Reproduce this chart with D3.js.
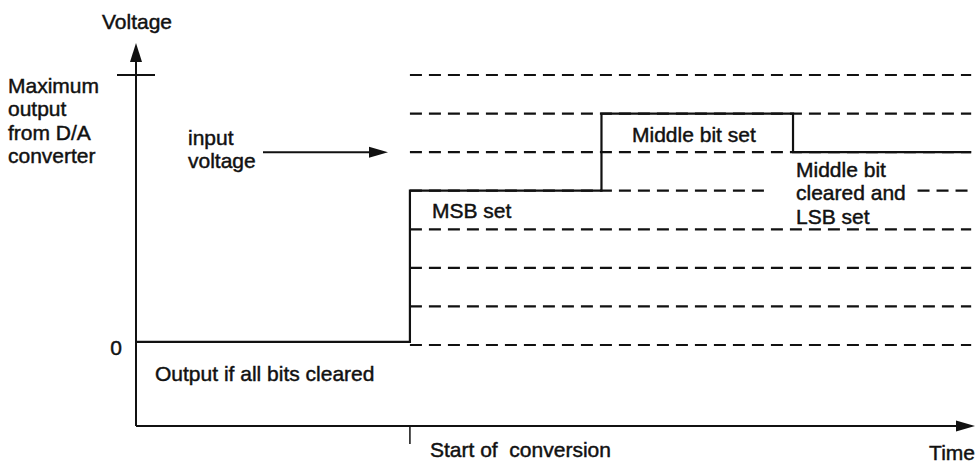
<!DOCTYPE html>
<html>
<head>
<meta charset="utf-8">
<script src="https://cdn.jsdelivr.net/npm/d3@7"></script>
<style>
  body { margin: 0; background: #fff; }
  text { font-family: "Liberation Sans", Arial, sans-serif; font-size: 21px; fill: #111; stroke: #111; stroke-width: 0.45px; }
</style>
</head>
<body>
<div id="chart"></div>
<script>
// D/A successive approximation staircase

// comparison levels (one per code 0..7)
var levels = [0, 1, 2, 3, 4, 5, 6, 7];
// output staircase: time (bit periods from start of conversion) and level
var stepTimes = [-1.43, 0, 1, 2, 2.93];
var stepLevels = [0.08, 4, 6, 5, 5];
var inputLevel = 5;
var maxLevel = 7;
// level 4 dashes broken by the last label
var gapLevel = 4;
var gapTimes = [1.86, 2.65];
var endTime = 2.93;

var svgWidth = 978;
var svgHeight = 465;

var svg = d3.select("#chart")
  .append("svg")
  .attr("width", svgWidth)
  .attr("height", svgHeight);

var xScale = d3.scaleLinear()
  .domain([-1.43, 2.95])
  .range([136, 975]);

var yScale = d3.scaleLinear()
  .domain([-2.1, 7.83])
  .range([426, 43]);

var x0 = xScale(-1.43);
var yAxisPos = yScale(-2.1);

// dashed comparison levels
var segs = [];
levels.forEach(function(l) {
  if (l === gapLevel) {
    segs.push([l, 0, gapTimes[0]]);
    segs.push([l, gapTimes[1], endTime]);
  } else {
    segs.push([l, 0, endTime]);
  }
});

svg.selectAll(".level")
  .data(segs)
  .enter()
  .append("line")
  .attr("class", "level")
  .attr("x1", d => xScale(d[1]))
  .attr("x2", d => xScale(d[2]))
  .attr("y1", d => yScale(d[0]))
  .attr("y2", d => yScale(d[0]))
  .attr("stroke", "#111")
  .attr("stroke-width", 2.2)
  .attr("stroke-dasharray", "12,7");

// output staircase
var stair = d3.line()
  .x(d => xScale(d[0]))
  .y(d => yScale(d[1]))
  .curve(d3.curveStepAfter);

svg.append("path")
  .datum(d3.zip(stepTimes, stepLevels))
  .attr("d", stair)
  .attr("fill", "none")
  .attr("stroke", "#111")
  .attr("stroke-width", 2.2);

// axes
svg.append("line")
  .attr("x1", x0).attr("x2", x0)
  .attr("y1", yAxisPos).attr("y2", yScale(7.83) + 14)
  .attr("stroke", "#111").attr("stroke-width", 2);
svg.append("line")
  .attr("x1", x0).attr("x2", xScale(2.95) - 14)
  .attr("y1", yAxisPos).attr("y2", yAxisPos)
  .attr("stroke", "#111").attr("stroke-width", 2.2);

// arrow heads
var yt = yScale(7.83), xt = xScale(2.95);
svg.append("path")
  .attr("d", `M${x0},${yt} L${x0 - 6},${yt + 19} L${x0 + 6},${yt + 19} Z`)
  .attr("fill", "#111");
svg.append("path")
  .attr("d", `M${xt},${yAxisPos} L${xt - 19},${yAxisPos - 5.5} L${xt - 19},${yAxisPos + 5.5} Z`)
  .attr("fill", "#111");

// max output tick
svg.append("line")
  .attr("x1", x0 - 19).attr("x2", x0 + 19)
  .attr("y1", yScale(maxLevel)).attr("y2", yScale(maxLevel))
  .attr("stroke", "#111").attr("stroke-width", 2);

// start of conversion tick
svg.append("line")
  .attr("x1", xScale(0)).attr("x2", xScale(0))
  .attr("y1", yAxisPos).attr("y2", yAxisPos + 18)
  .attr("stroke", "#111").attr("stroke-width", 1.5);

// input voltage arrow
var ay = yScale(inputLevel);
svg.append("line")
  .attr("x1", 263).attr("x2", 372)
  .attr("y1", ay).attr("y2", ay)
  .attr("stroke", "#111").attr("stroke-width", 2);
svg.append("path")
  .attr("d", `M388,${ay} L369,${ay - 5.5} L369,${ay + 5.5} Z`)
  .attr("fill", "#111");

// labels
function label(x, y, lines, anchor) {
  var t = svg.append("text")
    .attr("x", x)
    .attr("y", y)
    .attr("text-anchor", anchor || "start")
    .attr("xml:space", "preserve");
  lines.forEach(function(s, i) {
    t.append("tspan")
      .attr("x", x)
      .attr("dy", i === 0 ? 0 : 23.3)
      .text(s);
  });
}

label(137, 29, ["Voltage"], "middle");
label(8, 93, ["Maximum", "output", "from D/A", "converter"]);
label(188, 145, ["input", "voltage"]);
label(432, 218, ["MSB set"]);
label(632, 142, ["Middle bit set"]);
label(796, 177, ["Middle bit", "cleared and", "LSB set"]);
label(122, 355, ["0"], "end");
label(155, 381, ["Output if all bits cleared"]);
label(430, 457, ["Start of  conversion"]);
label(975, 460, ["Time"], "end");
</script>
</body>
</html>
